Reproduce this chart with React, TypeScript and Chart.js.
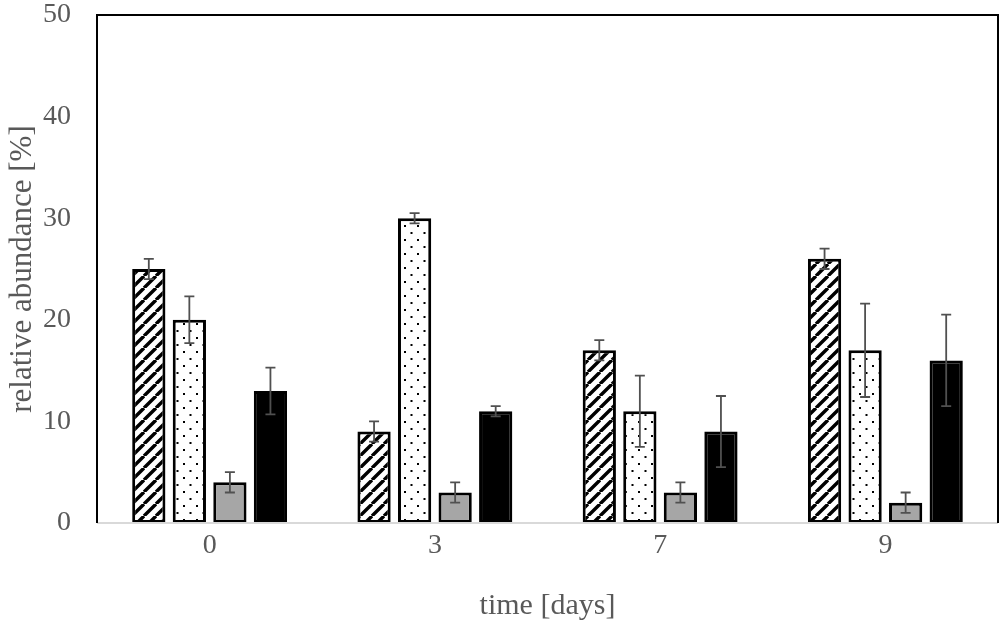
import { useEffect, useRef } from "react"
import { Chart, registerables } from "chart.js"

Chart.register(...registerables)

const days = ["0", "3", "7", "9"]

const hatchedValues = [25, 9, 17, 26]
const hatchedErrors = [1, 1, 1, 1]
const dottedValues = [20, 30, 11, 17]
const dottedErrors = [2.3, 0.5, 3.5, 4.6]
const greyValues = [4, 3, 3, 2]
const greyErrors = [1, 1, 1, 1]
const blackValues = [13, 11, 9, 16]
const blackErrors = [2.3, 0.5, 3.5, 4.5]

const yTicks = [0, 10, 20, 30, 40, 50]

const FONT = "'Liberation Serif', 'Times New Roman', serif"

function makeHatch() {
  const c = document.createElement("canvas")
  c.width = 12
  c.height = 12
  const g = c.getContext("2d")!
  g.fillStyle = "#ffffff"
  g.fillRect(0, 0, 12, 12)
  g.strokeStyle = "#000000"
  g.lineWidth = 3.4
  g.beginPath()
  for (let k = -12; k <= 24; k += 12) {
    g.moveTo(k, 12)
    g.lineTo(k + 12, 0)
  }
  g.stroke()
  return g.createPattern(c, "repeat")!
}

function makeDots() {
  const c = document.createElement("canvas")
  c.width = 13
  c.height = 14
  const g = c.getContext("2d")!
  g.fillStyle = "#ffffff"
  g.fillRect(0, 0, 13, 14)
  g.fillStyle = "#000000"
  g.fillRect(1, 1, 2, 2)
  g.fillRect(7.5, 8, 2, 2)
  return g.createPattern(c, "repeat")!
}

// draws the error bars from the named error arrays
const errorBars = {
  id: "errorBars",
  afterDatasetsDraw(chart: any) {
    const ctx = chart.ctx
    const y = chart.scales.y
    const errs = [hatchedErrors, dottedErrors, greyErrors, blackErrors]
    ctx.save()
    ctx.strokeStyle = "#505050"
    ctx.lineWidth = 1.8
    chart.data.datasets.forEach((ds: any, i: number) => {
      const meta = chart.getDatasetMeta(i)
      meta.data.forEach((bar: any, j: number) => {
        const v = ds.data[j]
        const e = errs[i][j]
        const top = y.getPixelForValue(v + e)
        const bot = y.getPixelForValue(v - e)
        const x = bar.x
        ctx.beginPath()
        ctx.moveTo(x, top)
        ctx.lineTo(x, bot)
        ctx.moveTo(x - 5, top)
        ctx.lineTo(x + 5, top)
        ctx.moveTo(x - 5, bot)
        ctx.lineTo(x + 5, bot)
        ctx.stroke()
      })
    })
    ctx.restore()
  },
}

// plot area frame: black left/top/right, grey baseline
const frame = {
  id: "frame",
  afterDraw(chart: any) {
    const { left, right, top, bottom } = chart.chartArea
    const ctx = chart.ctx
    ctx.save()
    ctx.strokeStyle = "#d9d9d9"
    ctx.lineWidth = 2
    ctx.beginPath()
    ctx.moveTo(left, bottom)
    ctx.lineTo(right, bottom)
    ctx.stroke()
    ctx.strokeStyle = "#000000"
    ctx.lineWidth = 2
    ctx.beginPath()
    ctx.moveTo(left, bottom)
    ctx.lineTo(left, top)
    ctx.lineTo(right, top)
    ctx.lineTo(right, bottom)
    ctx.stroke()
    ctx.restore()
  },
}

function AbundanceChart() {
  const chartRef = useRef<HTMLCanvasElement>(null)
  const chartInstance = useRef<Chart | null>(null)

  useEffect(() => {
    if (!chartRef.current) return
    const ctx = chartRef.current.getContext("2d")
    if (!ctx) return
    if (chartInstance.current) chartInstance.current.destroy()

    const barStyle = {
      borderColor: "#000000",
      borderWidth: 3,
      borderSkipped: false as const,
      barPercentage: 0.82,
      categoryPercentage: 0.72,
    }

    chartInstance.current = new Chart(ctx, {
      type: "bar",
      data: {
        labels: days,
        datasets: [
          { label: "hatched", data: hatchedValues, backgroundColor: makeHatch(), ...barStyle },
          { label: "dotted", data: dottedValues, backgroundColor: makeDots(), ...barStyle },
          { label: "grey", data: greyValues, backgroundColor: "#a6a6a6", ...barStyle },
          { label: "black", data: blackValues, backgroundColor: "#000000", ...barStyle },
        ],
      },
      options: {
        animation: false,
        responsive: false,
        layout: { padding: { top: 15, right: 2, left: 0, bottom: 0 } },
        plugins: {
          legend: { display: false },
          tooltip: { enabled: false },
        },
        scales: {
          x: {
            grid: { display: false, drawTicks: false },
            border: { display: false },
            ticks: {
              color: "#595959",
              font: { family: FONT, size: 28 },
              padding: 6,
            },
            title: {
              display: true,
              text: "time [days]",
              color: "#595959",
              font: { family: FONT, size: 30 },
              padding: { top: 0, bottom: 0 },
            },
            afterFit: (scale: any) => {
              scale.height = 101
              scale.paddingLeft = 0
              scale.paddingRight = 0
            },
          },
          y: {
            min: 0,
            max: 50,
            afterBuildTicks: (scale: any) => {
              scale.ticks = yTicks.map((v) => ({ value: v }))
            },
            grid: { display: false, drawTicks: false },
            border: { display: false },
            ticks: {
              color: "#595959",
              font: { family: FONT, size: 28 },
              padding: 26,
            },
            title: {
              display: true,
              text: "relative abundance [%]",
              color: "#595959",
              font: { family: FONT, size: 31 },
              padding: { top: 4, bottom: 0 },
            },
            afterFit: (scale: any) => {
              scale.width = 97
              scale.paddingTop = 0
              scale.paddingBottom = 0
            },
          },
        },
      },
      plugins: [errorBars, frame],
    })

    return () => {
      if (chartInstance.current) {
        chartInstance.current.destroy()
        chartInstance.current = null
      }
    }
  }, [])

  return <canvas ref={chartRef} width={1000} height={624} />
}

export default function App() {
  return (
    <div style={{ position: "fixed", left: 0, top: 0, width: 1000, height: 624, background: "#ffffff" }}>
      <AbundanceChart />
    </div>
  )
}
